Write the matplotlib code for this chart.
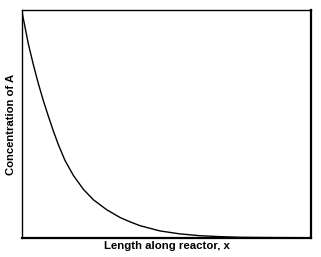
import matplotlib
matplotlib.use("Agg")
import matplotlib.pyplot as plt

# points (x: reactor length on a 0-10 scale, y: relative concentration)
length_x = [0.0, 0.024, 0.104, 0.218, 0.391, 0.564, 0.737, 0.910, 1.083, 1.256,
            1.488, 1.775, 2.121, 2.467, 2.931, 3.391, 3.737, 4.083, 4.775, 5.467,
            6.159, 6.851, 7.543, 8.5, 10.0]
conc_a = [1.0, 0.976, 0.925, 0.852, 0.761, 0.678, 0.603, 0.535, 0.470, 0.410,
          0.340, 0.275, 0.214, 0.168, 0.124, 0.090, 0.071, 0.054, 0.031, 0.018,
          0.010, 0.006, 0.003, 0.002, 0.001]

x_label = "Length along reactor, x"
y_label = "Concentration of A"

plt.rcParams['font.family'] = ['Liberation Sans', 'DejaVu Sans']

fig = plt.figure(figsize=(3.21, 2.57), dpi=100)
ax = fig.add_axes([22 / 321, 19 / 257, 289 / 321, 228 / 257])

ax.plot(length_x, conc_a, color='black', lw=1.0, solid_joinstyle='round')
ax.set_xlim(0, 10)
ax.set_ylim(0, 1.0)
ax.set_xticks([])
ax.set_yticks([])
for side in ['left', 'top']:
    ax.spines[side].set_linewidth(1.0)
for side in ['right', 'bottom']:
    ax.spines[side].set_linewidth(1.6)

ax.set_xlabel(x_label, fontsize=8.2, fontweight='bold', labelpad=2)
ax.set_ylabel(y_label, fontsize=8.1, fontweight='bold', labelpad=4)

fig.savefig('out.png', dpi=100)
